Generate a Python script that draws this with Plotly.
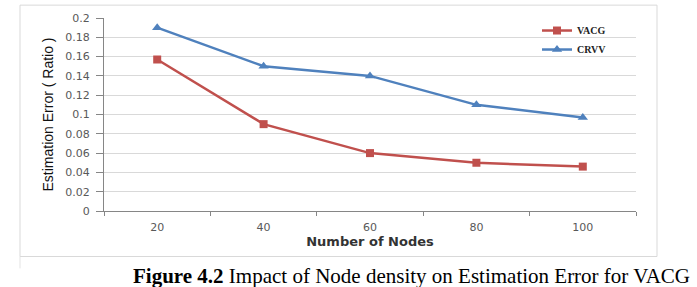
import plotly.graph_objects as go

nodes = ["20", "40", "60", "80", "100"]
vacg = [0.157, 0.090, 0.060, 0.050, 0.046]
crvv = [0.190, 0.150, 0.140, 0.110, 0.097]
y_ticks = [0, 0.02, 0.04, 0.06, 0.08, 0.1, 0.12, 0.14, 0.16, 0.18, 0.2]
y_tick_labels = ["0", "0.02", "0.04", "0.06", "0.08", "0.1", "0.12", "0.14", "0.16", "0.18", "0.2"]

W, H = 697, 287
L, R, T, B = 104, 61, 16, 76
pw, ph = W - L - R, H - T - B

def px(x):
    return (x - L) / pw

def py(y):
    return (H - B - y) / ph

fig = go.Figure()
fig.add_trace(go.Scatter(
    x=nodes, y=vacg, name="<b>VACG</b>", mode="lines+markers",
    line=dict(color="#C0504D", width=2.5),
    marker=dict(symbol="square", size=8, color="#C0504D"),
))
fig.add_trace(go.Scatter(
    x=nodes, y=crvv, name="<b>CRVV</b>", mode="lines+markers",
    line=dict(color="#4F81BD", width=2.5),
    marker=dict(symbol="triangle-up", size=9, color="#4F81BD"),
))

fig.update_layout(
    width=W, height=H,
    margin=dict(l=L, r=R, t=T, b=B),
    paper_bgcolor="white", plot_bgcolor="white",
    showlegend=True,
    legend=dict(
        x=px(537), y=py(14), xanchor="left", yanchor="top",
        bgcolor="rgba(0,0,0,0)",
        font=dict(family="Liberation Serif", size=10, color="#222"),
        itemwidth=30,
    ),
    xaxis=dict(
        type="category", range=[-0.5, 4.5],
        showline=True, linecolor="#868686", linewidth=1,
        ticks="outside", tickson="boundaries", ticklen=4, tickcolor="#868686",
        ticklabelstandoff=6,
        showgrid=False,
        tickfont=dict(family="DejaVu Sans", size=11, color="#595959"),
        title=dict(text="<b>Number of Nodes</b>", standoff=2,
                   font=dict(family="DejaVu Sans", size=13, color="#333")),
    ),
    yaxis=dict(
        range=[0, 0.2], tickvals=y_ticks, ticktext=y_tick_labels,
        showline=True, linecolor="#868686", linewidth=1,
        ticks="outside", ticklen=7, tickcolor="#868686",
        ticklabelstandoff=4,
        showgrid=True, gridcolor="#d9d9d9", gridwidth=1,
        zeroline=False,
        tickfont=dict(family="DejaVu Sans", size=11, color="#595959"),
        title=dict(text="Estimation Error ( Ratio )", standoff=8,
                   font=dict(family="Liberation Sans Narrow, Liberation Sans", size=14, color="#111")),
    ),
    shapes=[
        dict(type="rect", xref="paper", yref="paper",
             x0=px(20), x1=px(657), y0=py(257), y1=py(3),
             line=dict(color="#d9d9d9", width=1), fillcolor="rgba(0,0,0,0)", layer="below"),
        dict(type="line", xref="paper", yref="paper",
             x0=px(20), x1=px(20), y0=py(257), y1=py(269),
             line=dict(color="#e3e3e3", width=1)),
    ],
    annotations=[
        dict(xref="paper", yref="paper", x=px(131), y=py(263), xanchor="left", yanchor="top",
             showarrow=False,
             text="<b>Figure 4.2</b> Impact of Node density on Estimation Error for VACG",
             font=dict(family="Liberation Serif", size=21, color="#000")),
    ],
)

fig.write_html("out.html")
